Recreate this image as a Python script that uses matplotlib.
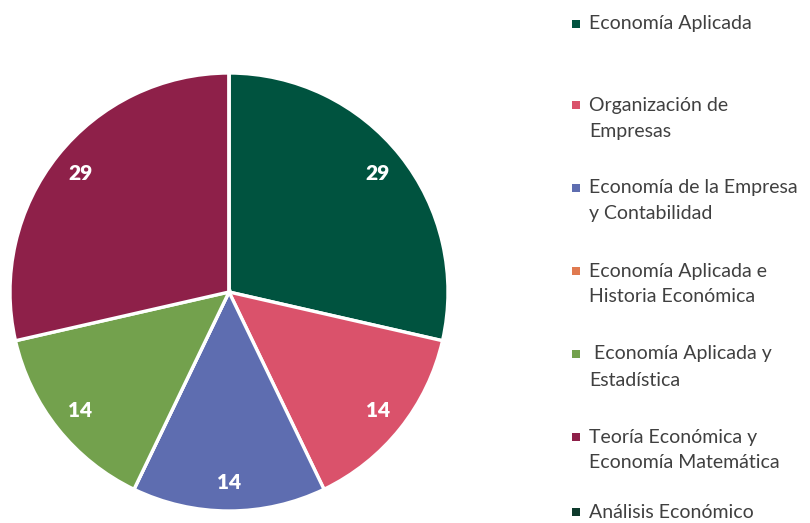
import matplotlib
matplotlib.use("Agg")
import matplotlib.pyplot as plt
from matplotlib.patches import Rectangle

categories = [
    "Economía Aplicada",
    "Organización de\nEmpresas",
    "Economía de la Empresa\ny Contabilidad",
    "Economía Aplicada e\nHistoria Económica",
    " Economía Aplicada y\nEstadística",
    "Teoría Económica y\nEconomía Matemática",
    "Análisis Económico",
]
values = [28.6, 14.3, 14.3, 0, 14.3, 28.6, 0]
colors = ["#00533F", "#DA526B", "#5E6DB0", "#E07A50", "#73A14D", "#8E2049", "#0E3A2C"]

W, H = 810, 523
fig = plt.figure(figsize=(W / 100, H / 100), dpi=100)
fig.patch.set_facecolor("white")

cx, cy, r = 229, 292, 219
ax = fig.add_axes([(cx - r) / W, (H - cy - r) / H, 2 * r / W, 2 * r / H])

def fmt(p):
    return f"{p:.0f}" if p >= 1 else ""

wedges, texts, autotexts = ax.pie(
    values,
    colors=colors,
    startangle=90,
    counterclock=False,
    autopct=fmt,
    pctdistance=0.87,
    radius=1.0,
    wedgeprops=dict(edgecolor="white", linewidth=2.4),
    textprops=dict(color="white", fontsize=15, fontweight="heavy", family="Lato"),
)
ax.set_xlim(-1.0, 1.0)
ax.set_ylim(-1.0, 1.0)
ax.set_aspect("equal")
ax.axis("off")

# manual legend
tx = 589
sq = 8
y_first = [24, 105, 188, 271, 354, 437, 512]
for cat, col, y0 in zip(categories, colors, y_first):
    lines = cat.split("\n")
    for i, ln in enumerate(lines):
        fig.text(tx / W, 1 - (y0 + 26 * i) / H, ln, ha="left", va="center",
                 fontsize=14, color="#404040", family="Lato")
    fig.patches.append(Rectangle(((576 - sq / 2) / W, 1 - (y0 + sq / 2) / H),
                                 sq / W, sq / H, transform=fig.transFigure,
                                 facecolor=col, edgecolor="none"))

fig.savefig("out.png", dpi=100)
